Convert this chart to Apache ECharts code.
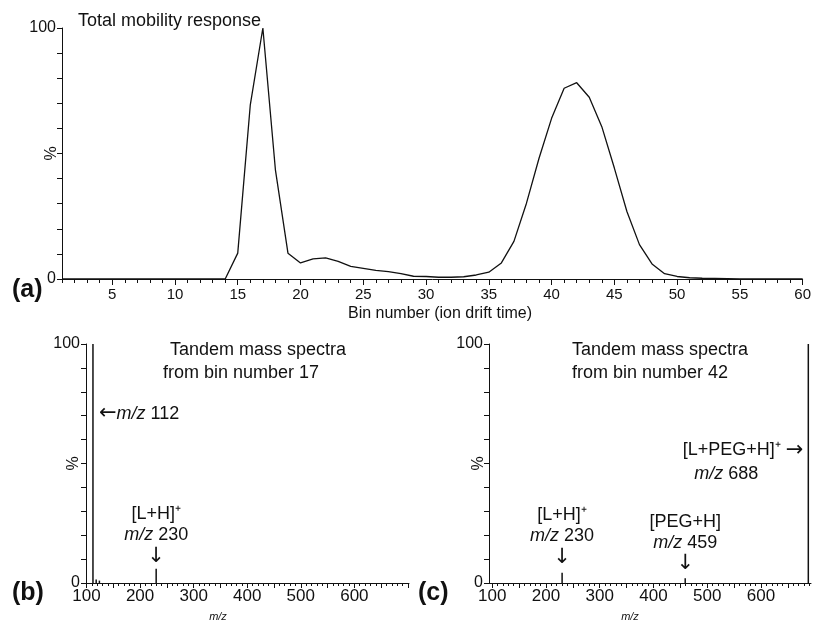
<!DOCTYPE html>
<html lang="en">
<head>
<meta charset="UTF-8">
<title>Total mobility response and tandem mass spectra</title>
<script src="https://cdn.jsdelivr.net/npm/echarts@6.0.0/dist/echarts.min.js"></script>
<style>
  html, body { margin: 0; padding: 0; background: #fff; }
  #chart { width: 814px; height: 626px; }
</style>
</head>
<body>
<div id="chart"></div>
<script>
// (a) total mobility response per drift-time bin
const binNumbers = [1, 2, 3, 4, 5, 6, 7, 8, 9, 10, 11, 12, 13, 14, 15, 16, 17, 18, 19, 20,
  21, 22, 23, 24, 25, 26, 27, 28, 29, 30, 31, 32, 33, 34, 35, 36, 37, 38, 39, 40,
  41, 42, 43, 44, 45, 46, 47, 48, 49, 50, 51, 52, 53, 54, 55, 56, 57, 58, 59, 60]
const mobilityResponse = [0, 0, 0, 0, 0, 0, 0, 0, 0, 0, 0, 0, 0, 0, 10.3, 69.4, 100, 43.5, 10.3, 6.4,
  8.0, 8.4, 7.0, 5.0, 4.2, 3.4, 2.9, 2.1, 1.1, 1.0, 0.7, 0.7, 0.9, 1.6, 2.7, 6.4, 15.0, 30.2, 48.1, 64.0,
  76.0, 78.2, 72.4, 60.7, 44.2, 26.9, 13.7, 6.0, 2.1, 1.0, 0.5, 0.3, 0.2, 0.1, 0, 0, 0, 0, 0, 0]
const binLabels = [5, 10, 15, 20, 25, 30, 35, 40, 45, 50, 55, 60]

// (b) spectrum from bin 17, (c) spectrum from bin 42
const mzBin17 = [112, 118, 124, 230]
const intensityBin17 = [100, 1.5, 1, 6]
const mzBin42 = [230, 459, 688]
const intensityBin42 = [4.3, 2, 100]
const mzLabels = [100, 200, 300, 400, 500, 600]
const percentLabels = [0, 100]

const FONT = '"Liberation Sans", Arial, sans-serif'
const INK = '#111'

const mzMinorTicks = []
for (let v = 100; v <= 700; v += 10) mzMinorTicks.push(v)
const mzMajorTicks = mzMinorTicks.filter(v => v % 50 === 0)

const chart = echarts.init(document.getElementById('chart'), null, { renderer: 'canvas' })

const lineAxis = { show: true, lineStyle: { color: INK, width: 1 } }

const yAxisFor = (gridIndex, gap) => ({
  gridIndex,
  type: 'value',
  min: 0,
  max: 100,
  interval: 10,
  name: '%',
  nameLocation: 'middle',
  nameRotate: 90,
  nameGap: gap,
  nameMoveOverlap: false,
  nameTextStyle: { color: INK, fontFamily: FONT, fontSize: 16 },
  axisLine: lineAxis,
  axisTick: { show: true, length: 5, lineStyle: { color: INK } },
  axisLabel: {
    color: INK, fontFamily: FONT, fontSize: 16, margin: 6,
    formatter: v => (percentLabels.includes(v) ? String(v) : '')
  },
  splitLine: { show: false }
})

const mzAxes = (gridIndex, min, max) => [
  {
    gridIndex, type: 'value', min, max,
    axisLine: lineAxis,
    axisTick: { show: true, length: 3, customValues: mzMinorTicks.filter(v => v <= max), lineStyle: { color: INK } },
    axisLabel: { color: INK, fontFamily: FONT, fontSize: 17, margin: 5, customValues: mzLabels },
    splitLine: { show: false }
  },
  {
    gridIndex, type: 'value', min, max, position: 'bottom',
    axisLine: { show: false },
    axisTick: { show: true, length: 5, customValues: mzMajorTicks.filter(v => v <= max), lineStyle: { color: INK } },
    axisLabel: { show: false },
    splitLine: { show: false }
  }
]

const rich = {
  n: { fontFamily: FONT, fontSize: 18, color: INK, lineHeight: 21 },
  i: { fontFamily: FONT, fontSize: 18, color: INK, fontStyle: 'italic', lineHeight: 21 },
  a: { fontFamily: '"DejaVu Sans", sans-serif', fontSize: 21, color: INK, lineHeight: 21 }
}

const note = (coord, text, position, distance) => ({
  coord,
  symbol: 'circle',
  symbolSize: 0,
  label: {
    show: true,
    position,
    distance,
    formatter: () => text,
    rich
  }
})

const textItem = (x, y, text, font, align) => ({
  type: 'text',
  x, y,
  style: {
    text, font, fill: INK,
    align: align || 'left', textAlign: align || 'left',
    verticalAlign: 'middle', textVerticalAlign: 'middle'
  }
})

const option = {
  animation: false,
  backgroundColor: '#fff',
  grid: [
    { left: 62, top: 28, width: 741, height: 251 },
    { left: 86, top: 344, width: 323, height: 239 },
    { left: 489, top: 344, width: 322, height: 239 }
  ],
  xAxis: [
    {
      gridIndex: 0, type: 'value', min: 1, max: 60,
      axisLine: lineAxis,
      axisTick: { show: true, length: 4, customValues: binNumbers, lineStyle: { color: INK } },
      axisLabel: { color: INK, fontFamily: FONT, fontSize: 15, margin: 8, customValues: binLabels },
      splitLine: { show: false }
    },
    {
      gridIndex: 0, type: 'value', min: 1, max: 60, position: 'bottom',
      axisLine: { show: false },
      axisTick: { show: true, length: 6, customValues: binLabels, lineStyle: { color: INK } },
      axisLabel: { show: false },
      splitLine: { show: false }
    },
    ...mzAxes(1, 99, 702),
    ...mzAxes(2, 94, 693)
  ],
  yAxis: [yAxisFor(0, 2), yAxisFor(1, 4), yAxisFor(2, 2)],
  series: [
    {
      type: 'line',
      xAxisIndex: 0, yAxisIndex: 0,
      data: binNumbers.map((b, i) => [b, mobilityResponse[i]]),
      symbol: 'none',
      lineStyle: { color: INK, width: 1.3 }
    },
    {
      type: 'bar',
      xAxisIndex: 2, yAxisIndex: 1,
      data: mzBin17.map((m, i) => [m, intensityBin17[i]]),
      barWidth: 1.5,
      itemStyle: { color: INK },
      markPoint: {
        data: [
          note([112, 70.7], '{a|←}{i|m/z}{n| 112}', 'right', 6),
          note([230, 6], '{n|[L+H]⁺}\n{i|m/z}{n| 230}\n{a|↓}', 'top', 2)
        ]
      }
    },
    {
      type: 'bar',
      xAxisIndex: 4, yAxisIndex: 2,
      data: mzBin42.map((m, i) => [m, intensityBin42[i]]),
      barWidth: 1.5,
      itemStyle: { color: INK },
      markPoint: {
        data: [
          note([230, 4.3], '{n|[L+H]⁺}\n{i|m/z}{n| 230}\n{a|↓}', 'top', 5),
          note([459, 2], '{n|[PEG+H]}\n{i|m/z}{n| 459}\n{a|↓}', 'top', 4),
          note([688, 55.6], '{n|[L+PEG+H]⁺ }{a|→}', 'left', 5),
          note([688, 45.6], '{i|m/z}{n| 688}', 'left', 50)
        ]
      }
    }
  ],
  graphic: [
    textItem(78, 21, 'Total mobility response', '18px ' + FONT),
    textItem(440, 314, 'Bin number (ion drift time)', '16px ' + FONT, 'center'),
    textItem(12, 290, '(a)', 'bold 25px ' + FONT),
    textItem(170, 350, 'Tandem mass spectra', '18px ' + FONT),
    textItem(163, 373, 'from bin number 17', '18px ' + FONT),
    textItem(12, 593, '(b)', 'bold 25px ' + FONT),
    textItem(218, 617, 'm/z', 'italic 11px ' + FONT, 'center'),
    textItem(572, 350, 'Tandem mass spectra', '18px ' + FONT),
    textItem(572, 373, 'from bin number 42', '18px ' + FONT),
    textItem(418, 593, '(c)', 'bold 25px ' + FONT),
    textItem(630, 617, 'm/z', 'italic 11px ' + FONT, 'center')
  ]
}

chart.setOption(option)
</script>
</body>
</html>
